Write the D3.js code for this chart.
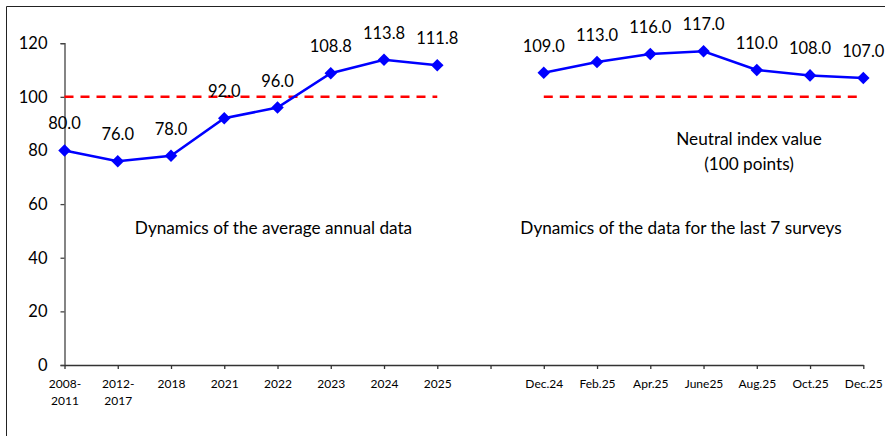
<!DOCTYPE html>
<html>
<head>
<meta charset="utf-8">
<script src="https://cdn.jsdelivr.net/npm/d3@7"></script>
<style>
  html, body { margin: 0; padding: 0; background: #fff; }
  svg { display: block; font-family: Lato, "Open Sans", sans-serif; }
</style>
</head>
<body>
<svg id="chart" width="885" height="436"></svg>
<script>
// ---- data ----
const annualCategories = ["2008-2011", "2012-2017", "2018", "2021", "2022", "2023", "2024", "2025"];
const annualValues = [80.0, 76.0, 78.0, 92.0, 96.0, 108.8, 113.8, 111.8];
const surveyCategories = ["Dec.24", "Feb.25", "Apr.25", "June25", "Aug.25", "Oct.25", "Dec.25"];
const surveyValues = [109.0, 113.0, 116.0, 117.0, 110.0, 108.0, 107.0];
const gapCategory = " ";
const neutralValue = 100;
const yTicks = [0, 20, 40, 60, 80, 100, 120];
const annotationTexts = ["Dynamics of the average annual data", "Dynamics of the data for the last 7 surveys"];
const neutralLabel = ["Neutral index value", "(100 points)"];

// ---- layout ----
const svg = d3.select("#chart");
const plotLeft = 64.5, plotRight = 863.3, plotTop = 43.2, plotBottom = 365;
const allCats = [...annualCategories, gapCategory, ...surveyCategories];

const x = d3.scalePoint().domain(allCats).range([plotLeft, plotRight]);
const y = d3.scaleLinear().domain([0, 120]).range([plotBottom, plotTop]);

// frame
svg.append("path")
  .attr("d", `M6.5,440 V6.5 H890`)
  .attr("fill", "none").attr("stroke", "#222").attr("stroke-width", 1);

// y axis
const yAxis = svg.append("g").attr("transform", `translate(${plotLeft},0)`)
  .call(d3.axisLeft(y).tickValues(yTicks).tickSize(4).tickPadding(13).tickFormat(d3.format("d")));
yAxis.select(".domain").attr("stroke", "#444").attr("stroke-width", 1.3);
yAxis.selectAll(".tick line").attr("stroke", "#444").attr("stroke-width", 1.3);
yAxis.selectAll("text").attr("font-size", 16.5).attr("fill", "#000").attr("font-family", "Lato");

// x axis
const xAxis = svg.append("g").attr("transform", `translate(0,${plotBottom})`)
  .call(d3.axisBottom(x).tickSize(4).tickSizeOuter(0).tickFormat(""));
xAxis.select(".domain").attr("stroke", "#333").attr("stroke-width", 1.3);
xAxis.selectAll(".tick line").attr("stroke", "#333").attr("stroke-width", 1.3);
xAxis.selectAll(".tick").each(function(d) {
  const parts = d.includes("-") ? [d.split("-")[0] + "-", d.split("-")[1]] : [d];
  const t = d3.select(this).append("text")
    .attr("text-anchor", "middle").attr("font-size", 12).attr("fill", "#000")
    .attr("font-family", "Lato");
  parts.forEach((p, i) => t.append("tspan").attr("x", 0).attr("y", 23 + i * 17).text(p));
});

// neutral dashed lines
function neutral(cats) {
  svg.append("line")
    .attr("x1", x(cats[0])).attr("x2", x(cats[cats.length - 1]))
    .attr("y1", y(neutralValue)).attr("y2", y(neutralValue))
    .attr("stroke", "#FF0000").attr("stroke-width", 2.5)
    .attr("stroke-dasharray", "9,7");
}
neutral(annualCategories);
neutral(surveyCategories);

// series
function series(cats, vals) {
  const data = cats.map((c, i) => ({ c, v: vals[i] }));
  const line = d3.line().x(d => x(d.c)).y(d => y(d.v));
  svg.append("path").datum(data).attr("d", line)
    .attr("fill", "none").attr("stroke", "#0000FF").attr("stroke-width", 2.5);
  const sym = d3.symbol().type(d3.symbolDiamond2).size(100);
  svg.selectAll(null).data(data).enter().append("path")
    .attr("d", sym)
    .attr("transform", d => `translate(${x(d.c)},${y(d.v)})`)
    .attr("fill", "#0000FF");
  svg.selectAll(null).data(data).enter().append("text")
    .attr("x", d => x(d.c)).attr("y", d => y(d.v) - 21)
    .attr("text-anchor", "middle").attr("font-size", 16.5).attr("fill", "#000")
    .attr("font-family", "Lato")
    .text(d => d3.format(".1f")(d.v));
}
series(annualCategories, annualValues);
series(surveyCategories, surveyValues);

// annotations
svg.append("text").attr("x", 273.5).attr("y", 234).attr("text-anchor", "middle")
  .attr("font-size", 17.2).attr("fill", "#000").text(annotationTexts[0]);
svg.append("text").attr("x", 681).attr("y", 234).attr("text-anchor", "middle")
  .attr("font-size", 17.2).attr("fill", "#000").text(annotationTexts[1]);
neutralLabel.forEach((t, i) => {
  svg.append("text").attr("x", 749).attr("y", 145 + i * 25).attr("text-anchor", "middle")
    .attr("font-size", 17.2).attr("fill", "#000").text(t);
});
</script>
</body>
</html>
